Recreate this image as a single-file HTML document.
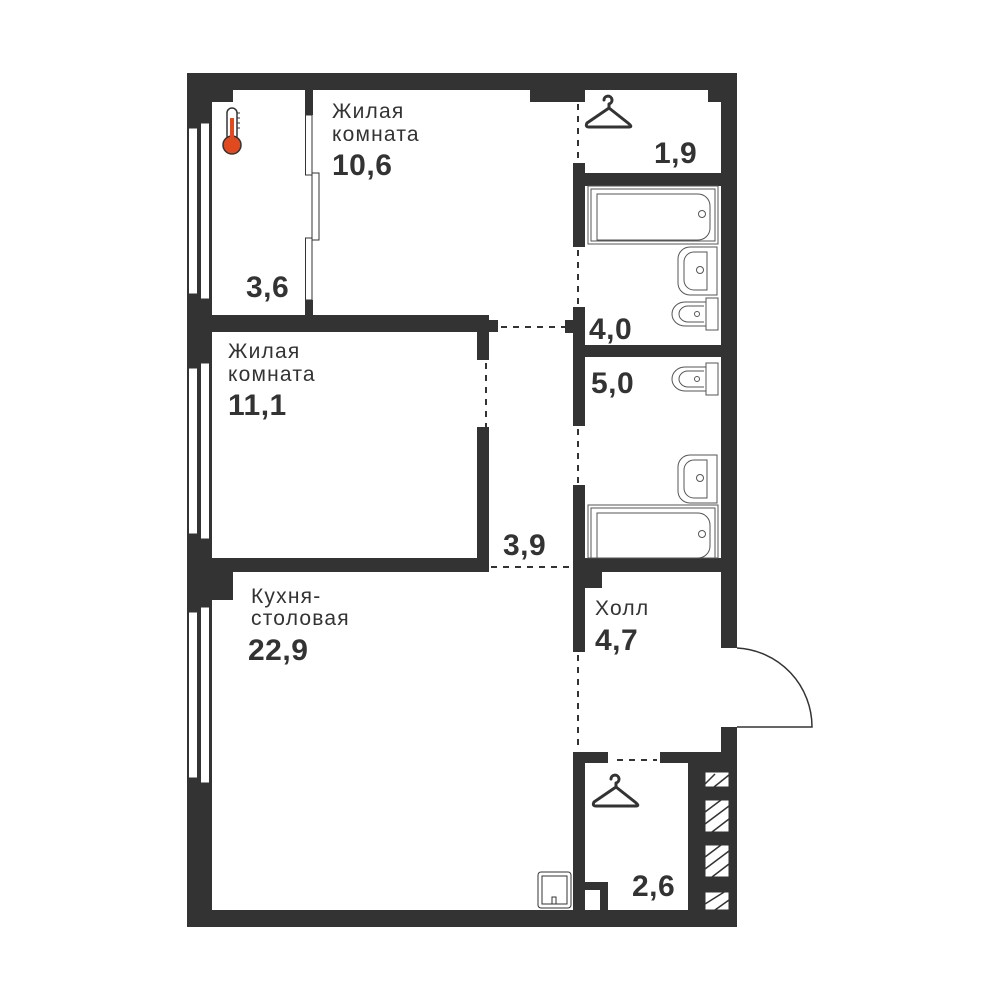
<!DOCTYPE html>
<html><head><meta charset="utf-8"><style>
html,body{margin:0;padding:0;background:#fff;width:1000px;height:1000px;overflow:hidden}
svg{display:block}
.l{font-family:"Liberation Sans",sans-serif;font-size:21px;fill:#333;letter-spacing:1.2px}
.b{font-family:"Liberation Sans",sans-serif;font-size:30px;font-weight:bold;fill:#333;letter-spacing:0.5px}
</style></head><body>
<svg width="1000" height="1000" viewBox="0 0 1000 1000" xmlns="http://www.w3.org/2000/svg">
<g fill="#333">
<rect x="187" y="73" width="550" height="17"/>
<rect x="187" y="910" width="550" height="17"/>
<rect x="187" y="73" width="25" height="854"/>
<rect x="187" y="73" width="46" height="29"/>
<rect x="530" y="73" width="55" height="29"/>
<rect x="708" y="73" width="29" height="29"/>
<rect x="721" y="73" width="16" height="575"/>
<rect x="727" y="727" width="10" height="200"/>
<rect x="721" y="727" width="16" height="25"/>
<rect x="305" y="90" width="8" height="25"/>
<rect x="305" y="300" width="8" height="15"/>
<rect x="187" y="315" width="302" height="17"/>
<rect x="489" y="320" width="9" height="12"/>
<rect x="477" y="332" width="12" height="28"/>
<rect x="477" y="427" width="12" height="145"/>
<rect x="187" y="558" width="302" height="14"/>
<rect x="187" y="558" width="46" height="42"/>
<rect x="573" y="163" width="12" height="84"/>
<rect x="573" y="173" width="148" height="13"/>
<rect x="573" y="307" width="12" height="119"/>
<rect x="565" y="320" width="8" height="13"/>
<rect x="573" y="345" width="148" height="12"/>
<rect x="573" y="485" width="12" height="167"/>
<rect x="573" y="558" width="164" height="14"/>
<rect x="585" y="572" width="17" height="16"/>
<rect x="573" y="752" width="35" height="11"/>
<rect x="660" y="752" width="77" height="11"/>
<rect x="573" y="752" width="12" height="175"/>
<rect x="585" y="882" width="23" height="8"/>
<rect x="600" y="882" width="8" height="28"/>
<rect x="688" y="752" width="49" height="175"/>
</g>
<g fill="#fff" stroke="#333" stroke-width="1">
<rect x="705" y="772" width="24" height="15"/><rect x="705" y="800" width="24" height="32"/>
<rect x="705" y="845" width="24" height="32"/><rect x="705" y="892" width="24" height="18"/>
</g>
<g stroke="#333" stroke-width="1.5">
<path d="M705 784l10-10M714 787l15-12M705 812l24-18M705 824l24-18M712 832l17-13M705 857l24-18M705 869l24-18M712 877l17-13M705 904l24-15M715 910l14-10"/>
</g>
<g fill="#fff" stroke="#333" stroke-width="1">
<rect x="188.5" y="128" width="9" height="166"/><rect x="200.5" y="123" width="9" height="176"/>
<rect x="188.5" y="368" width="9" height="166"/><rect x="200.5" y="363" width="9" height="176"/>
<rect x="188.5" y="612" width="9" height="166"/><rect x="200.5" y="607" width="9" height="176"/>
<rect x="305.5" y="115" width="6.5" height="60"/><rect x="312" y="173" width="7" height="67"/><rect x="305.5" y="238" width="6.5" height="62"/>
</g>
<g stroke="#333" stroke-width="2" stroke-dasharray="6,6" fill="none">
<path d="M578 104V163M578 250V307M578 429V485M578 655V748M486 363V427M501 327H565M491 567H572M617 760H657"/>
</g>
<path d="M737 648A79 79 0 0 1 812 727H737" fill="#fff" stroke="#333" stroke-width="1.5"/>
<rect x="721" y="648" width="16" height="79" fill="#fff"/>
<g fill="none" stroke="#555" stroke-width="1">
<rect x="588" y="186" width="130" height="58"/><rect x="591" y="189" width="124" height="52"/>
<path d="M597 194H698a12 12 0 0 1 12 12V228a12 12 0 0 1-12 12H597Z"/><circle cx="702" cy="214" r="3.5"/>
<rect x="588" y="505" width="130" height="53"/><rect x="591" y="508" width="124" height="50"/>
<path d="M597 513H698a12 12 0 0 1 12 12V546a12 12 0 0 1-12 12H597Z"/><circle cx="702" cy="534" r="3.5"/>
<path d="M717 247H690a12 12 0 0 0-12 12V283a12 12 0 0 0 12 12H717Z"/><path d="M707 252H694a10 10 0 0 0-10 10V280a10 10 0 0 0 10 10H707Z"/><circle cx="700" cy="270" r="3.5"/>
<path d="M717 455H690a12 12 0 0 0-12 12V491a12 12 0 0 0 12 12H717Z"/><path d="M707 460H694a10 10 0 0 0-10 10V488a10 10 0 0 0 10 10H707Z"/><circle cx="700" cy="478" r="3.5"/>
<rect x="706" y="298" width="12" height="32"/><path d="M706 302H685a13 12 0 0 0 0 24H706"/><path d="M704 306H688a9 8 0 0 0 0 16H704"/><circle cx="697" cy="314" r="2.5"/>
<rect x="706" y="363" width="12" height="32"/><path d="M706 367H685a13 12 0 0 0 0 24H706"/><path d="M704 371H688a9 8 0 0 0 0 16H704"/><circle cx="697" cy="379" r="2.5"/>
<rect x="538" y="872" width="33" height="36" rx="3" stroke="#333"/><rect x="542" y="876" width="25" height="28" stroke="#333"/>
<path d="M552 904v-7h4v7M549 904h11" stroke="#333"/>
</g>
<g fill="none" stroke="#333" stroke-width="3" stroke-linecap="round" stroke-linejoin="round">
<path d="M604 100a4 4 0 1 1 5 4v4L587 123q-2 4 2 4h40q4 0-1-4L609 108"/>
<path d="M611 779a4 4 0 1 1 5 4v4L594 802q-2 4 2 4h40q4 0-1-4L616 787"/>
</g>
<g>
<rect x="227" y="108" width="10" height="33" rx="5" fill="#fff" stroke="#333" stroke-width="1.5"/>
<circle cx="232" cy="145" r="9" fill="#e04a1e" stroke="#333" stroke-width="1.5"/>
<rect x="230" y="118" width="4" height="26" fill="#e04a1e"/>
<path d="M237 113h3M237 118h3M237 123h3M237 128h3" stroke="#333" stroke-width="1"/>
</g>
<text class="l" x="332" y="118">Жилая</text><text class="l" x="332" y="141">комната</text><text class="b" x="332" y="175">10,6</text>
<text class="b" x="246" y="297">3,6</text>
<text class="b" x="654" y="163">1,9</text>
<text class="b" x="589" y="339">4,0</text>
<text class="b" x="591" y="393">5,0</text>
<text class="l" x="228" y="358">Жилая</text><text class="l" x="228" y="381">комната</text><text class="b" x="228" y="415">11,1</text>
<text class="b" x="503" y="555">3,9</text>
<text class="l" x="251" y="603">Кухня-</text><text class="l" x="251" y="625">столовая</text><text class="b" x="248" y="660">22,9</text>
<text class="l" x="595" y="615">Холл</text><text class="b" x="595" y="650">4,7</text>
<text class="b" x="632" y="896">2,6</text>
</svg>
</body></html>
